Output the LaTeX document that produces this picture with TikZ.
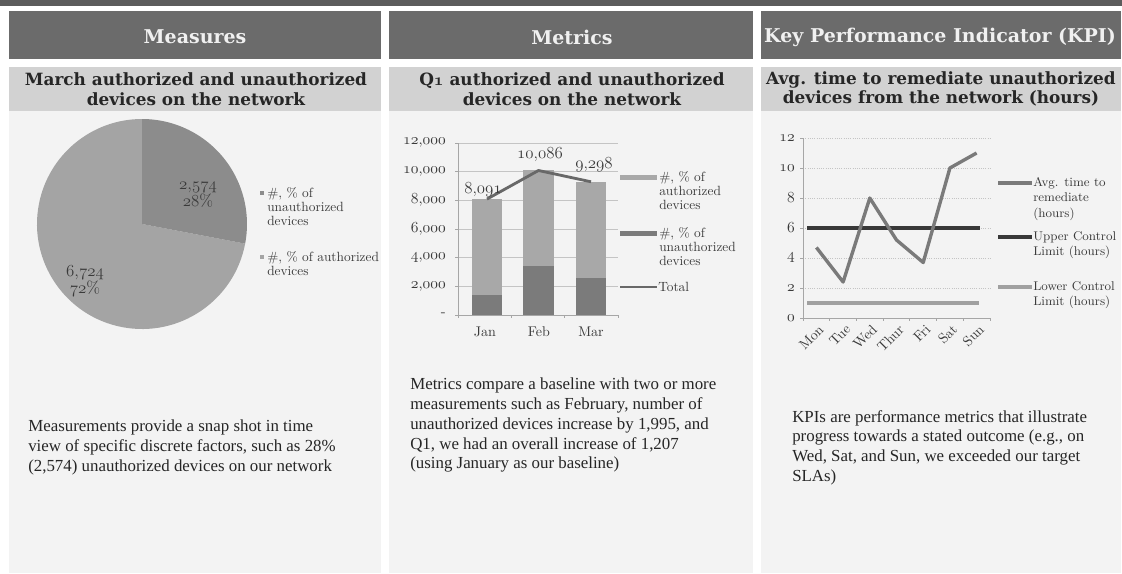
\documentclass[tikz,border=0pt]{standalone}
\usepackage{fontspec}
\newfontfamily\timesf{Liberation Serif}
\newfontfamily\hdrf{DejaVu Serif}
\newcommand\osf[1]{{\usefont{OML}{cmm}{m}{it}#1}}
\newcommand\osfb[1]{{\usefont{OML}{cmm}{b}{it}#1}}
\definecolor{topstrip}{HTML}{5C5C5C}
\definecolor{hdr}{HTML}{6B6B6B}
\definecolor{ttl}{HTML}{D2D2D2}
\definecolor{colbg}{HTML}{F3F3F3}
\definecolor{pieU}{HTML}{8C8C8C}
\definecolor{pieA}{HTML}{A4A4A4}
\definecolor{barA}{HTML}{A8A8A8}
\definecolor{barU}{HTML}{7B7B7B}
\definecolor{totc}{HTML}{686868}
\definecolor{avgc}{HTML}{7A7A7A}
\definecolor{uclc}{HTML}{383838}
\definecolor{lclc}{HTML}{A0A0A0}
\definecolor{gridc}{HTML}{C4C4C4}
\definecolor{txt}{HTML}{262626}
\definecolor{ctxt}{HTML}{3A3A3A}
\begin{document}
\begin{tikzpicture}[x=0.025cm,y=-0.025cm,
  hdrtxt/.style={text=white!94!black,font=\hdrf\bfseries\fontsize{13.5}{15}\selectfont,inner sep=0},
  ttltxt/.style={text=txt,font=\hdrf\bfseries\fontsize{12}{14}\selectfont,align=center,inner sep=0},
  bodytxt/.style={text=txt,font=\timesf\fontsize{12}{14}\selectfont,align=left,anchor=north west,inner sep=0},
  axlbl/.style={text=ctxt,font=\fontsize{10.5}{11}\selectfont,inner sep=0},
  leg/.style={text=ctxt,font=\fontsize{9.5}{10}\selectfont,align=left,anchor=north west,inner sep=0},
  legk/.style={text=ctxt,font=\fontsize{9}{11}\selectfont,align=left,anchor=north west,inner sep=0},
  grid line/.style={draw=gridc,line width=0.6pt},
  kgrid/.style={draw=gridc,line width=0.6pt,densely dotted},
  axis line/.style={draw=gray!70,line width=0.6pt}]
\useasboundingbox (0,0) rectangle (1122,573);
\fill[white] (0,0) rectangle (1122,573);
% top strip and columns
\fill[topstrip] (0,0) rectangle (1122,6);
\fill[colbg] (9,111) rectangle (381,573);
\fill[colbg] (389,111) rectangle (753,573);
\fill[colbg] (761,111) rectangle (1121,573);
\fill[hdr] (9,11) rectangle (381,59);
\fill[hdr] (389,11) rectangle (753,59);
\fill[hdr] (761,11) rectangle (1121,59);
\fill[ttl] (9,67) rectangle (381,111);
\fill[ttl] (389,67) rectangle (753,111);
\fill[ttl] (761,67) rectangle (1121,111);
\node[hdrtxt] (h1) at (195,37) {Measures};
\node[hdrtxt] (h2) at (572,37) {Metrics};
\node[hdrtxt] (h3) at (940,37) {Key Performance Indicator (KPI)};
\node[ttltxt] (t1) at (196,89) {March authorized and unauthorized\\devices on the network};
\node[ttltxt] (t2) at (572,89) {Q\osfb{1} authorized and unauthorized\\devices on the network};
\node[ttltxt] (t3) at (941,89) {Avg. time to remediate unauthorized\\devices from the network (hours)};
% ---------- pie ----------
\coordinate (pc) at (142,224);
\fill[pieA] (pc) -- ++(10.8:105) arc[start angle=10.8,end angle=270,radius=105] -- cycle;
\fill[pieU] (pc) -- ++(-90:105) arc[start angle=-90,end angle=10.8,radius=105] -- cycle;
\node[axlbl,align=center,font=\fontsize{12}{11}\selectfont] (pl1) at (198,195) {\osf{2},\osf{574}\\\osf{28}\%};
\node[axlbl,align=center,font=\fontsize{12}{11}\selectfont] (pl2) at (85,281) {\osf{6},\osf{724}\\\osf{72}\%};
\fill[pieU] (260,191) rectangle (264,195);
\fill[pieA] (260,255) rectangle (264,259);
\node[leg] (pg1) at (267,187) {\#, \% of\\unauthorized\\devices};
\node[leg] (pg2) at (267,251) {\#, \% of authorized\\devices};
% ---------- bar chart ----------
\foreach \v in {2000,4000,6000,8000,10000,12000}
  \draw[grid line] (458,{315-0.01433*\v}) -- (618,{315-0.01433*\v});
\draw[axis line] (458,143) -- (458,315);
\foreach \v in {0,2000,4000,6000,8000,10000,12000}
  \draw[axis line] (455,{315-0.01433*\v}) -- (458,{315-0.01433*\v});
\foreach \xx in {458,511.3,564.7,618}
  \draw[axis line] (\xx,315) -- (\xx,318);
% bars
\fill[barU] (472,315) rectangle (502,{315-0.01433*1400});
\fill[barA] (472,{315-0.01433*1400}) rectangle (502,{315-0.01433*8091});
\fill[barU] (523,315) rectangle (554,{315-0.01433*3395});
\fill[barA] (523,{315-0.01433*3395}) rectangle (554,{315-0.01433*10086});
\fill[barU] (576,315) rectangle (606,{315-0.01433*2574});
\fill[barA] (576,{315-0.01433*2574}) rectangle (606,{315-0.01433*9298});
\draw[axis line] (458,315) -- (618,315);
\coordinate (bj) at (487,{315-0.01433*8091});
\coordinate (bf) at (538.5,{315-0.01433*10086});
\coordinate (bm) at (591,{315-0.01433*9298});
\draw[totc,line width=2pt,line join=round] (bj) -- (bf) -- (bm);
\node[axlbl,font=\fontsize{11.5}{12}\selectfont] (d1) at (483,190) {\osf{8},\osf{091}};
\node[axlbl,font=\fontsize{11.5}{12}\selectfont] (d2) at (540,155) {\osf{10},\osf{086}};
\node[axlbl,font=\fontsize{11.5}{12}\selectfont] (d3) at (594,165) {\osf{9},\osf{298}};
\node[axlbl,anchor=east] (ya0) at (446,315) {-};
\node[axlbl,anchor=east] (ya1) at (446,286.3) {\osf{2},\osf{000}};
\node[axlbl,anchor=east] (ya2) at (446,257.7) {\osf{4},\osf{000}};
\node[axlbl,anchor=east] (ya3) at (446,229) {\osf{6},\osf{000}};
\node[axlbl,anchor=east] (ya4) at (446,200.4) {\osf{8},\osf{000}};
\node[axlbl,anchor=east] (ya5) at (446,171.7) {\osf{10},\osf{000}};
\node[axlbl,anchor=east] (ya6) at (446,143) {\osf{12},\osf{000}};
\node[axlbl,font=\fontsize{10}{11}\selectfont] (xj) at (485,332) {Jan};
\node[axlbl,font=\fontsize{10}{11}\selectfont] (xf) at (539,332) {Feb};
\node[axlbl,font=\fontsize{10}{11}\selectfont] (xm) at (591,332) {Mar};
% legend
\fill[barA] (620,174.5) rectangle (657,179.5);
\fill[barU] (620,230.5) rectangle (657,235.5);
\draw[totc,line width=2pt] (620,287) -- (657,287);
\node[leg] (bg1) at (659,171) {\#, \% of\\authorized\\devices};
\node[leg] (bg2) at (659,227) {\#, \% of\\unauthorized\\devices};
\node[leg,anchor=west] (bg3) at (658,287) {Total};
% ---------- line chart ----------
\foreach \v in {2,4,6,8,10,12}
  \draw[kgrid] (803,{318-15*\v}) -- (990,{318-15*\v});
\draw[axis line] (803,138) -- (803,318);
\foreach \v in {0,2,4,6,8,10,12}
  \draw[axis line] (800,{318-15*\v}) -- (803,{318-15*\v});
\draw[axis line] (803,318) -- (990,318);
\foreach \k in {0,...,7}
  \draw[axis line] ({803+26.714*\k},318) -- ({803+26.714*\k},321);
\draw[lclc,line width=2.4pt] (807,303) -- (979,303);
\draw[uclc,line width=2.4pt] (807,228) -- (980,228);
\coordinate (k1) at (816.4,{318-15*4.7});
\coordinate (k2) at (843.1,{318-15*2.4});
\coordinate (k3) at (869.8,{318-15*8.0});
\coordinate (k4) at (896.5,{318-15*5.2});
\coordinate (k5) at (923.2,{318-15*3.7});
\coordinate (k6) at (949.9,{318-15*10});
\coordinate (k7) at (976.6,{318-15*11});
\draw[avgc,line width=2.4pt,line join=round] (k1) -- (k2) -- (k3) -- (k4) -- (k5) -- (k6) -- (k7);
\foreach \v/\n in {0/ka0,2/ka1,4/ka2,6/ka3,8/ka4,10/ka5,12/ka6}
  \node[axlbl,anchor=east,font=\fontsize{11}{12}\selectfont] (\n) at (795,{318-15*\v}) {\osf{\v}};
\foreach \d [count=\i] in {Mon,Tue,Wed,Thur,Fri,Sat,Sun}
  \node[axlbl,rotate=45,anchor=east,font=\fontsize{10}{11}\selectfont] (kx\i) at ({803+26.714*(\i-0.5)+5},327) {\d};
% legend
\draw[avgc,line width=2.4pt] (998,183) -- (1032,183);
\draw[uclc,line width=2.4pt] (998,237) -- (1032,237);
\draw[lclc,line width=2.4pt] (998,287) -- (1032,287);
\node[legk] (kg1) at (1033,177) {Avg. time to\\remediate\\(hours)};
\node[legk] (kg2) at (1033,231) {Upper Control\\Limit (hours)};
\node[legk] (kg3) at (1033,281) {Lower Control\\Limit (hours)};
% ---------- body text ----------
\node[bodytxt] (b1) at (28,420) {Measurements provide a snap shot in time\\view of specific discrete factors, such as 28\%\\(2,574) unauthorized devices on our network};
\node[bodytxt] (b2) at (410,378) {Metrics compare a baseline with two or more\\measurements such as February, number of\\unauthorized devices increase by 1,995, and\\Q1, we had an overall increase of 1,207\\(using January as our baseline)};
\node[bodytxt] (b3) at (792,410) {KPIs are performance metrics that illustrate\\progress towards a stated outcome (e.g., on\\Wed, Sat, and Sun, we exceeded our target\\SLAs)};
\end{tikzpicture}
\end{document}
